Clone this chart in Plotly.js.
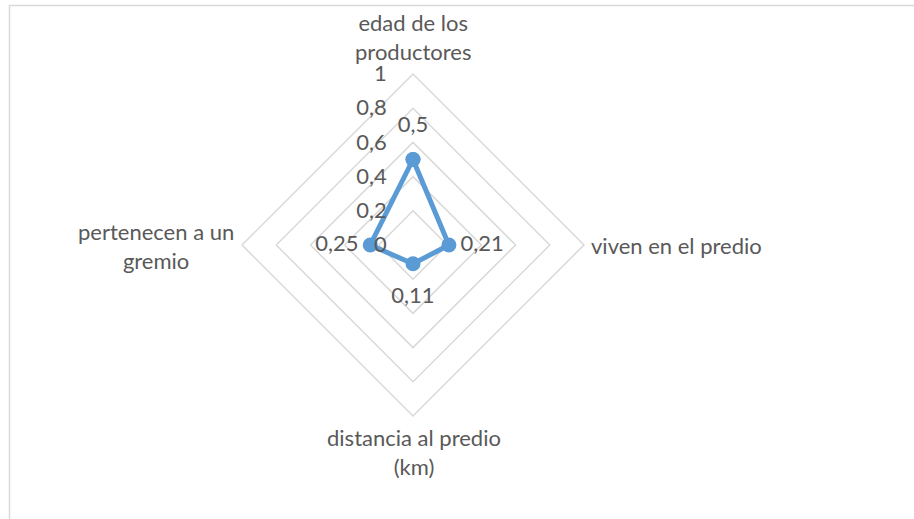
<!DOCTYPE html>
<html>
<head>
<meta charset="utf-8">
<script src="https://cdn.plot.ly/plotly-3.0.1.min.js"></script>
<style>
  html, body { margin: 0; padding: 0; background: #ffffff; }
  #chart { width: 914px; height: 519px; }
</style>
</head>
<body>
<div id="chart"></div>
<script>
// Producer profile, one spoke per indicator (clockwise from the top)
const categories = [
  "edad de los productores",
  "viven en el predio",
  "distancia al predio (km)",
  "pertenecen a un gremio"
];
// Wrapped versions of the spoke names
const categoryLabels = [
  "edad de los<br>productores",
  "viven en el predio",
  "distancia al predio<br>(km)",
  "pertenecen a un<br>gremio"
];
const values = [0.5, 0.21, 0.11, 0.25];
const radialTicks = [0, 0.2, 0.4, 0.6, 0.8, 1];
const radialTickText = ["0", "0,2", "0,4", "0,6", "0,8", "1"];

const textColor = "#595959";
const gridColor = "#d9d9d9";
const seriesColor = "#5b9bd5";
const fontFamily = "Lato, 'Open Sans', sans-serif";
const fontSize = 22;

// Data labels sit a fixed radial distance outside each point
const labelGap = 0.195;
const fmt = v => String(v).replace(".", ",");

const series = {
  type: "scatterpolar",
  mode: "lines+markers",
  r: values.concat([values[0]]),
  theta: categories.concat([categories[0]]),
  line: { color: seriesColor, width: 5 },
  marker: { color: seriesColor, size: 15 },
  hoverinfo: "skip",
  showlegend: false
};

const dataLabels = {
  type: "scatterpolar",
  mode: "text",
  r: values.map(v => v + labelGap),
  theta: categories,
  text: values.map(fmt),
  textposition: "middle center",
  textfont: { family: fontFamily, size: fontSize, color: textColor },
  hoverinfo: "skip",
  showlegend: false
};

// Spoke-name placement around the chart (pixel spots turned into paper fractions)
const W = 914, H = 519;
const labelSpots = [
  { x: 413, y: 37, xanchor: "center" },
  { x: 589, y: 245, xanchor: "left" },
  { x: 414, y: 452, xanchor: "center" },
  { x: 156, y: 246, xanchor: "center" }
];
const annotations = categoryLabels.map((t, i) => ({
  xref: "paper", yref: "paper",
  x: labelSpots[i].x / W,
  y: 1 - labelSpots[i].y / H,
  xanchor: labelSpots[i].xanchor,
  yanchor: "middle",
  align: "center",
  showarrow: false,
  text: t,
  font: { family: fontFamily, size: fontSize, color: textColor }
}));

const cx = 413, cy = 245, R = 171;

const layout = {
  width: W,
  height: H,
  margin: { l: 0, r: 0, t: 0, b: 0 },
  paper_bgcolor: "#ffffff",
  separators: ", ",
  font: { family: fontFamily, size: fontSize, color: textColor },
  showlegend: false,
  polar: {
    domain: {
      x: [(cx - R) / W, (cx + R) / W],
      y: [(H - cy - R) / H, (H - cy + R) / H]
    },
    bgcolor: "rgba(0,0,0,0)",
    gridshape: "linear",
    radialaxis: {
      range: [0, 1],
      tickvals: radialTicks,
      ticktext: radialTickText,
      angle: 90,
      side: "counterclockwise",
      tickangle: 90,
      showline: false,
      showgrid: true,
      gridcolor: gridColor,
      gridwidth: 1.5,
      ticks: "outside",
      ticklen: 18,
      tickcolor: "rgba(0,0,0,0)",
      tickfont: { family: fontFamily, size: fontSize, color: textColor }
    },
    angularaxis: {
      rotation: 90,
      direction: "clockwise",
      showticklabels: false,
      ticks: "",
      showgrid: false,
      showline: true,
      linecolor: gridColor,
      linewidth: 1.5
    }
  },
  annotations: annotations,
  shapes: [{
    type: "rect",
    xref: "paper", yref: "paper",
    x0: 9.5 / W, x1: 1.05,
    y0: -0.05, y1: 1 - 5.5 / H,
    line: { color: gridColor, width: 1.5 },
    fillcolor: "rgba(0,0,0,0)",
    layer: "below"
  }]
};

Plotly.newPlot("chart", [series, dataLabels], layout, { displayModeBar: false, staticPlot: true });
</script>
</body>
</html>
